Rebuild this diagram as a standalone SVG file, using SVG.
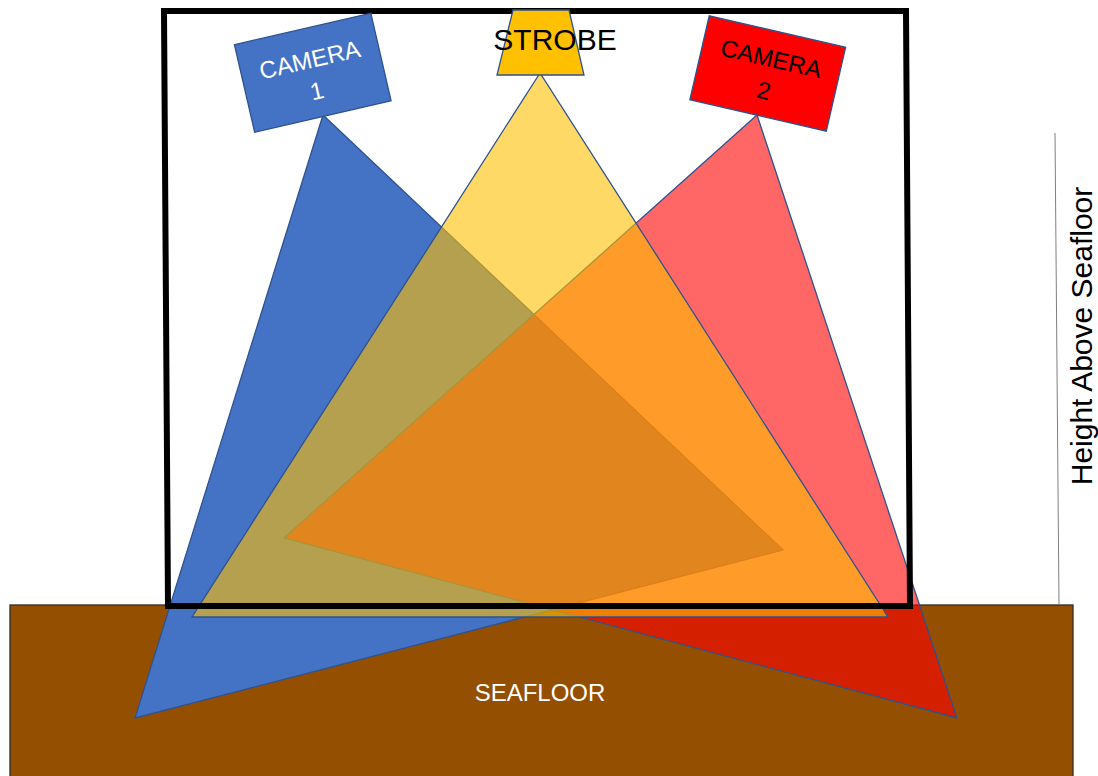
<svg xmlns="http://www.w3.org/2000/svg" width="1098" height="776" viewBox="0 0 1098 776">
<style>
.tri{stroke:#2F528F;stroke-width:1.3;stroke-linejoin:miter}
.lbl{font-family:"Liberation Sans",Arial,sans-serif;text-anchor:middle}
</style>
<rect width="1098" height="776" fill="#FFFFFF"/>
<g id="seafloor">
<rect x="10" y="605" width="1063" height="172" fill="#945000" stroke="#2B2B2B" stroke-width="1.3"/>
<text class="lbl" x="540" y="701" font-size="24" fill="#FFFFFF">SEAFLOOR</text>
</g>
<g id="beams">
<polygon id="beam-camera1" class="tri" points="323,115 135,718 783,550" fill="#4472C4"/>
<polygon id="beam-camera2" class="tri" points="757,115 284,538 957,718" fill="#FF0000" fill-opacity="0.6"/>
<polygon id="beam-strobe" class="tri" points="540,73 192,617 888,617" fill="#FFC000" fill-opacity="0.6"/>
</g>
<g id="frame">
<path d="M164,11 L906,11 L910,606 L168,606 Z" fill="none" stroke="#000000" stroke-width="6"/>
</g>
<g id="strobe">
<polygon points="513,10 569,10 584,75 497,75" fill="#FFC000" stroke="#2F528F" stroke-width="1.3"/>
<text class="lbl" x="555" y="50" font-size="30" fill="#000000">STROBE</text>
</g>
<g id="camera1" transform="translate(312.75,72.75) rotate(-13)">
<rect x="-70" y="-45" width="140" height="90" fill="#4472C4" stroke="#2F528F" stroke-width="1.3"/>
<text class="lbl" x="0" y="-5" font-size="24" fill="#FFFFFF">CAMERA</text>
<text class="lbl" x="0" y="27" font-size="24" fill="#FFFFFF">1</text>
</g>
<g id="camera2" transform="translate(767.75,73.5) rotate(13)">
<rect x="-70" y="-43" width="140" height="86" fill="#FF0000" stroke="#2F528F" stroke-width="1.3"/>
<text class="lbl" x="0" y="-7" font-size="24" fill="#000000">CAMERA</text>
<text class="lbl" x="0" y="26" font-size="24" fill="#000000">2</text>
</g>
<g id="height">
<line x1="1055" y1="133" x2="1059" y2="605" stroke="#7F7F7F" stroke-width="1"/>
<text class="lbl" transform="translate(1092,336) rotate(-90)" x="0" y="0" font-size="30" fill="#000000">Height Above Seafloor</text>
</g>
</svg>
